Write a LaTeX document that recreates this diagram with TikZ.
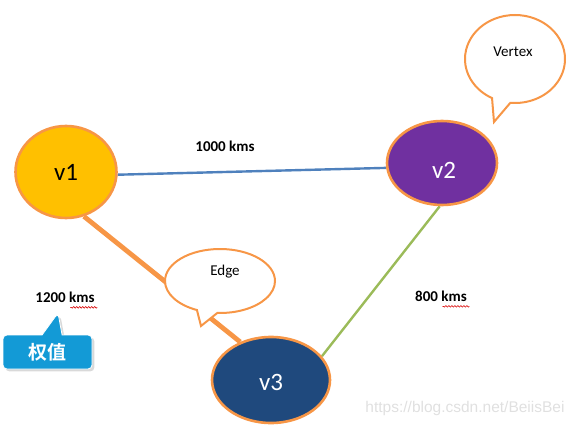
\documentclass[tikz,border=0pt]{standalone}
\usepackage{fontspec}
\setmainfont{Carlito}
\newfontfamily\cjkbold[BoldFont={Noto Sans CJK SC Bold}]{Noto Sans CJK SC}
\newfontfamily\markfont{Liberation Sans}
\usepackage{xcolor}
\definecolor{edgeorange}{RGB}{247,150,70}
\definecolor{vgold}{RGB}{255,192,0}
\definecolor{vpurple}{RGB}{112,48,160}
\definecolor{vnavy}{RGB}{31,73,125}
\definecolor{lineblue}{RGB}{79,129,189}
\definecolor{linegreen}{RGB}{155,187,89}
\definecolor{tagblue}{RGB}{19,154,214}
\usetikzlibrary{shapes.geometric,shapes.callouts,positioning,shadows,backgrounds,decorations.pathmorphing}

\begin{document}
\begin{tikzpicture}[
    x=1pt, y=-1pt,
    vtx/.style={ellipse, draw=edgeorange, line width=2.6pt,
                inner sep=0pt, font=\fontsize{25}{25}\selectfont},
    vname/.style={font=\fontsize{25}{25}\selectfont, text=white},
    bubble/.style={ellipse callout, draw=edgeorange, fill=white,
                   line width=2pt, inner sep=0pt, callout pointer arc=22},
    btxt/.style={font=\fontsize{15}{15}\selectfont},
    wlbl/.style={font=\fontsize{15}{15}\selectfont\bfseries},
    spell/.style={red!85!black, line width=0.6pt,
                  decorate, decoration={snake, amplitude=0.8pt, segment length=3pt}},
  ]
  \useasboundingbox (0,0) rectangle (576,428);

  %% vertices
  \node[vtx, fill=vgold, minimum width=101pt, minimum height=92pt] (v1) at (66,172) {v1};
  \node[vtx, fill=vpurple, minimum width=110pt, minimum height=84pt,
        label={[vname, xshift=2pt, yshift=-7pt]center:v2}] (v2) at (442,163) {};
  \node[vtx, fill=vnavy, minimum width=118pt, minimum height=86pt,
        label={[vname, yshift=-2pt]center:v3}] (v3) at (271,380) {};

  %% edges, behind the vertices
  \begin{scope}[on background layer]
    \draw[lineblue, line width=2.4pt] (v1.-3) -- (v2.-175);
    \draw[edgeorange, line width=4.8pt] (v1.-68) -- (v3.129);
    \draw[linegreen, line width=2.4pt] (v2.-93) -- (v3.25);
  \end{scope}

  %% weights
  \node[wlbl] (w12) at (225,146) {1000 kms};
  \node[wlbl] (w13) at (65,297)  {1200 kms};
  \node[wlbl] (w23) at (441,296) {800 kms};
  \draw[spell] ([xshift=-1pt,yshift=-1.5pt]w13.south east) -- ++(-27,0);
  \draw[spell] ([xshift=-1pt,yshift=-1.5pt]w23.south east) -- ++(-27,0);

  %% callouts
  \node[bubble, minimum width=100pt, minimum height=88pt,
        callout absolute pointer={(494,122)},
        label={[btxt, xshift=-2pt, yshift=7pt]center:Vertex}] (vbub) at (515,59) {};
  \node[bubble, minimum width=110pt, minimum height=64pt,
        callout absolute pointer={(201,326)},
        label={[btxt, xshift=5pt, yshift=9pt]center:Edge}] (ebub) at (220,281) {};

  \node[rectangle callout, fill=tagblue, draw=white, line width=0.8pt,
        rounded corners=4pt, drop shadow={opacity=0.3},
        minimum width=89pt, minimum height=34pt, inner sep=0pt,
        callout pointer width=20pt, callout absolute pointer={(58,313)},
        text=white, font=\fontsize{19}{19}\selectfont\cjkbold\bfseries] (tag) at (47.5,352) {权值};

  %% watermark
  \node[text=black!12, font=\fontsize{15.5}{15.5}\selectfont\markfont] (mark) at (465,408) {https://blog.csdn.net/BeiisBei};
\end{tikzpicture}
\end{document}
